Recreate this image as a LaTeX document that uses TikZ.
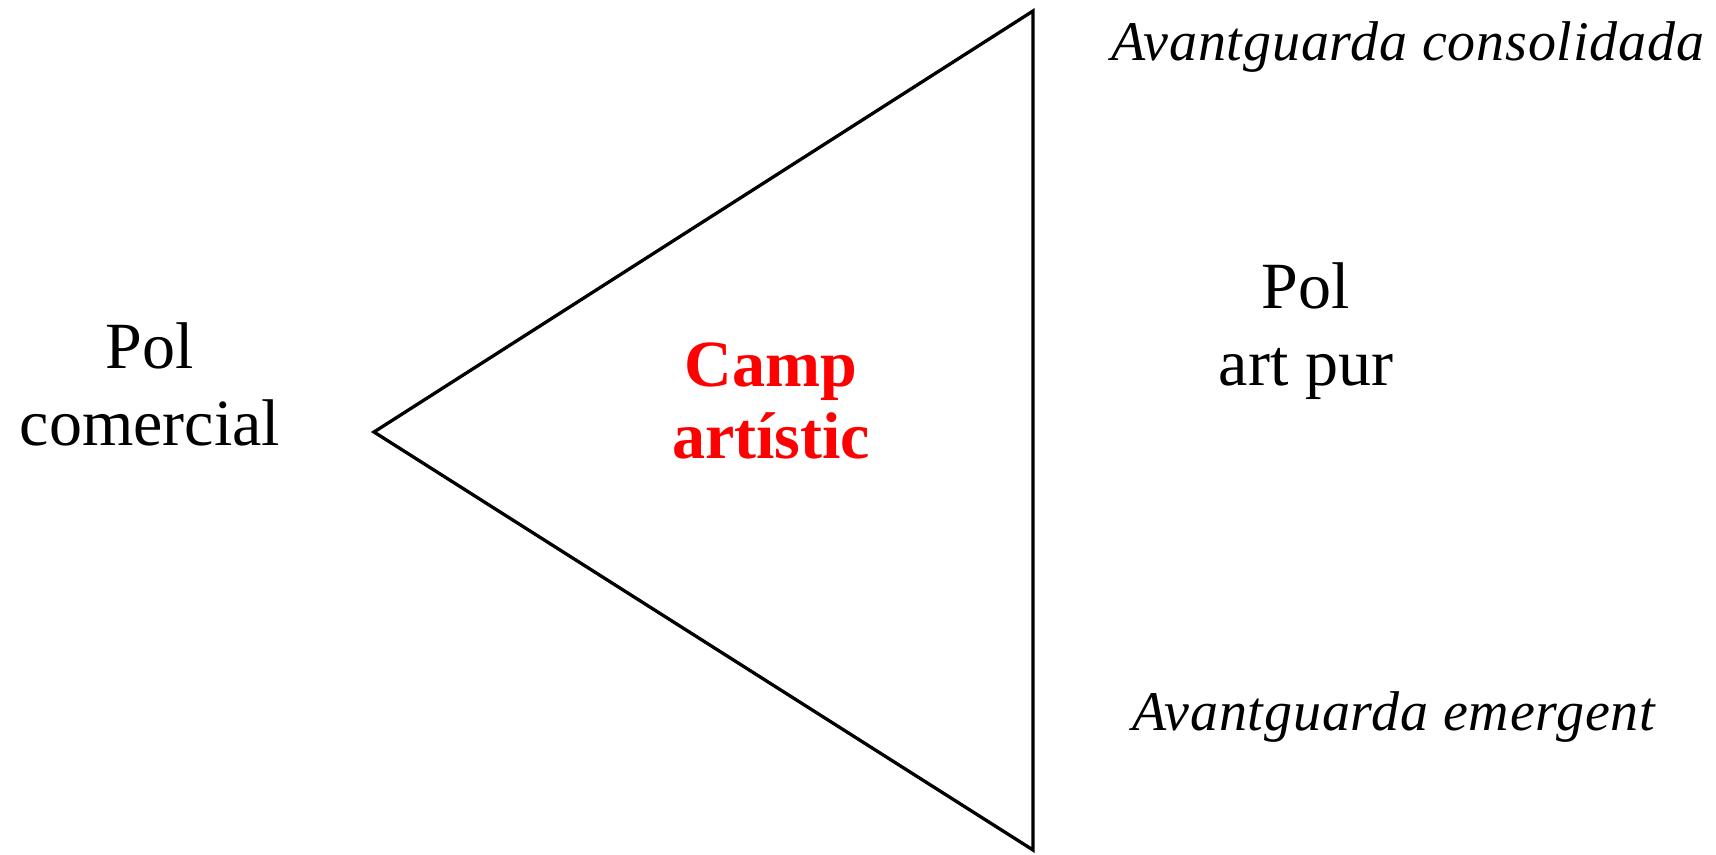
\documentclass[tikz,border=0pt]{standalone}
\usepackage{fontspec}
\setmainfont{Liberation Serif}
\begin{document}
\begin{tikzpicture}[x=1pt,y=-1pt,
  pol/.style={inner sep=0pt, align=center, anchor=base, font=\fontsize{66}{77}\selectfont},
  camp/.style={inner sep=0pt, align=center, anchor=base, text=red, font=\bfseries\fontsize{66}{72}\selectfont},
  avant/.style={inner sep=0pt, anchor=base, font=\itshape\fontsize{56}{60}\selectfont}]
\useasboundingbox (0,0) rectangle (1716,854);
\coordinate (L) at (374,432);
\coordinate (T) at (1033,11);
\coordinate (B) at (1033,850);
\draw[line width=3.3pt, line join=miter] (L) -- (T) -- (B) -- cycle;
\node[pol] (comercial) at (150,445) {Pol\\comercial};
\node[pol] (pur) at (1306,385) {Pol\\art pur};
\node[camp] (camp) at (771,458) {Camp\\artístic};
\node[avant] (consol) at (1408,60) {\addfontfeatures{LetterSpace=1.5}Avantguarda consolidada};
\node[avant] (emerg) at (1394,730) {\addfontfeatures{LetterSpace=1.5}Avantguarda emergent};
\end{tikzpicture}
\end{document}
